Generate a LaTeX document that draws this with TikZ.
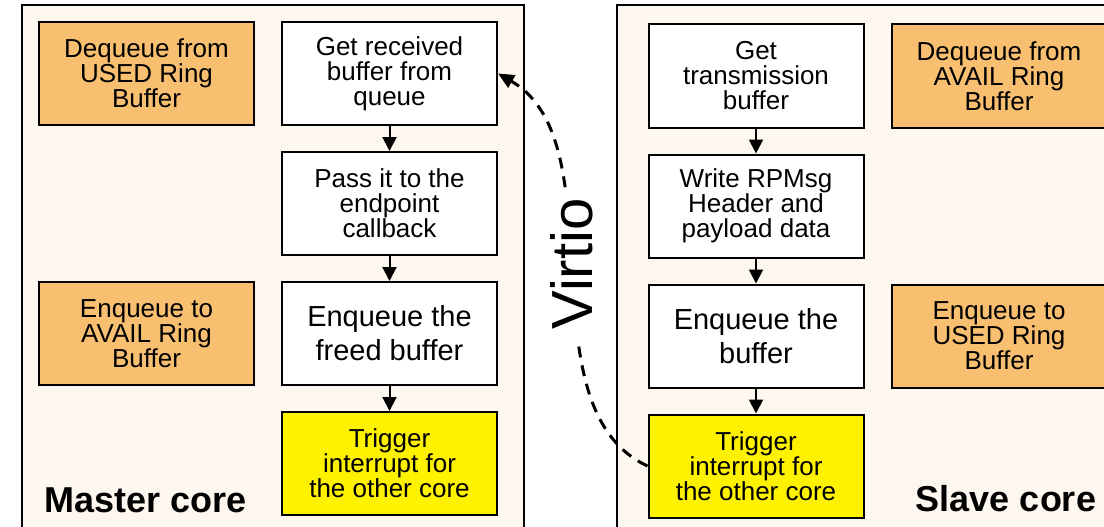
\documentclass[tikz,border=0pt]{standalone}
\usepackage{fontspec}
\setmainfont{Liberation Sans}
\usetikzlibrary{positioning, arrows.meta}

\definecolor{panelbg}{RGB}{254,247,239}
\definecolor{ringorange}{RGB}{249,191,112}

\tikzset{
  box/.style={draw, line width=2pt, minimum width=215pt, minimum height=103pt,
    align=center, inner sep=2pt, font=\fontsize{26}{25}\selectfont},
  flow/.style={box, fill=white},
  bigflow/.style={flow, font=\fontsize{29}{34}\selectfont},
  ring/.style={box, fill=ringorange},
  irq/.style={box, fill=yellow},
  panel/.style={draw, line width=2pt, fill=panelbg},
  corename/.style={font=\fontsize{36}{40}\selectfont\bfseries},
}

\begin{document}
\begin{tikzpicture}[x=1pt, y=-1pt, node distance=130pt and 243pt, on grid,
    >={Triangle[width=14pt,length=14pt]}]
  \useasboundingbox (0,0) rectangle (1104,527);
  \fill[white] (0,0) rectangle (1104,527);
  \draw[panel] (22,5) rectangle (524,545);
  \draw[panel] (617,5) rectangle (1125,545);

  % master core
  \node[flow] (mget) at (389.5,73.5) {Get received\\buffer from\\queue};
  \node[flow] (mpass) [below=of mget] {Pass it to the\\endpoint\\callback};
  \node[bigflow] (mfree) [below=of mpass] {Enqueue the\\freed buffer};
  \node[irq] (mtrig) [below=of mfree] {Trigger\\interrupt for\\the other core};
  \node[ring] (mused) [left=of mget] {Dequeue from\\USED Ring\\Buffer};
  \node[ring] (mavail) [left=of mfree] {Enqueue to\\AVAIL Ring\\Buffer};
  \node[corename] (master) at (146,500) {Master core};

  % slave core
  \node[flow] (sget) at (756,76) {Get\\transmission\\buffer};
  \node[flow] (swrite) [below=of sget] {Write RPMsg\\Header and\\payload data};
  \node[bigflow] (senq) [below=of swrite] {Enqueue the\\buffer};
  \node[irq] (strig) [below=of senq] {Trigger\\interrupt for\\the other core};
  \node[ring] (savail) [right=of sget] {Dequeue from\\AVAIL Ring\\Buffer};
  \node[ring] (sused) [right=of senq] {Enqueue to\\USED Ring\\Buffer};
  \node[corename] (slave) at (1006,499) {Slave core};

  \path[->, line width=2pt]
  (mget) edge (mpass)
  (mpass) edge (mfree)
  (mfree) edge (mtrig)
  (sget) edge (swrite)
  (swrite) edge (senq)
  (senq) edge (strig);

  \draw[-{Triangle[width=14pt,length=16pt]}, line width=3pt, dash pattern=on 11pt off 8pt]
    (strig.west) to[out=155, in=-30, looseness=0.85] (mget.east);
  \node[rotate=90, fill=white, inner ysep=2pt, inner xsep=10pt, font=\fontsize{58}{60}\selectfont]
    (virtio) at (572,264) {Virtio};
\end{tikzpicture}
\end{document}
